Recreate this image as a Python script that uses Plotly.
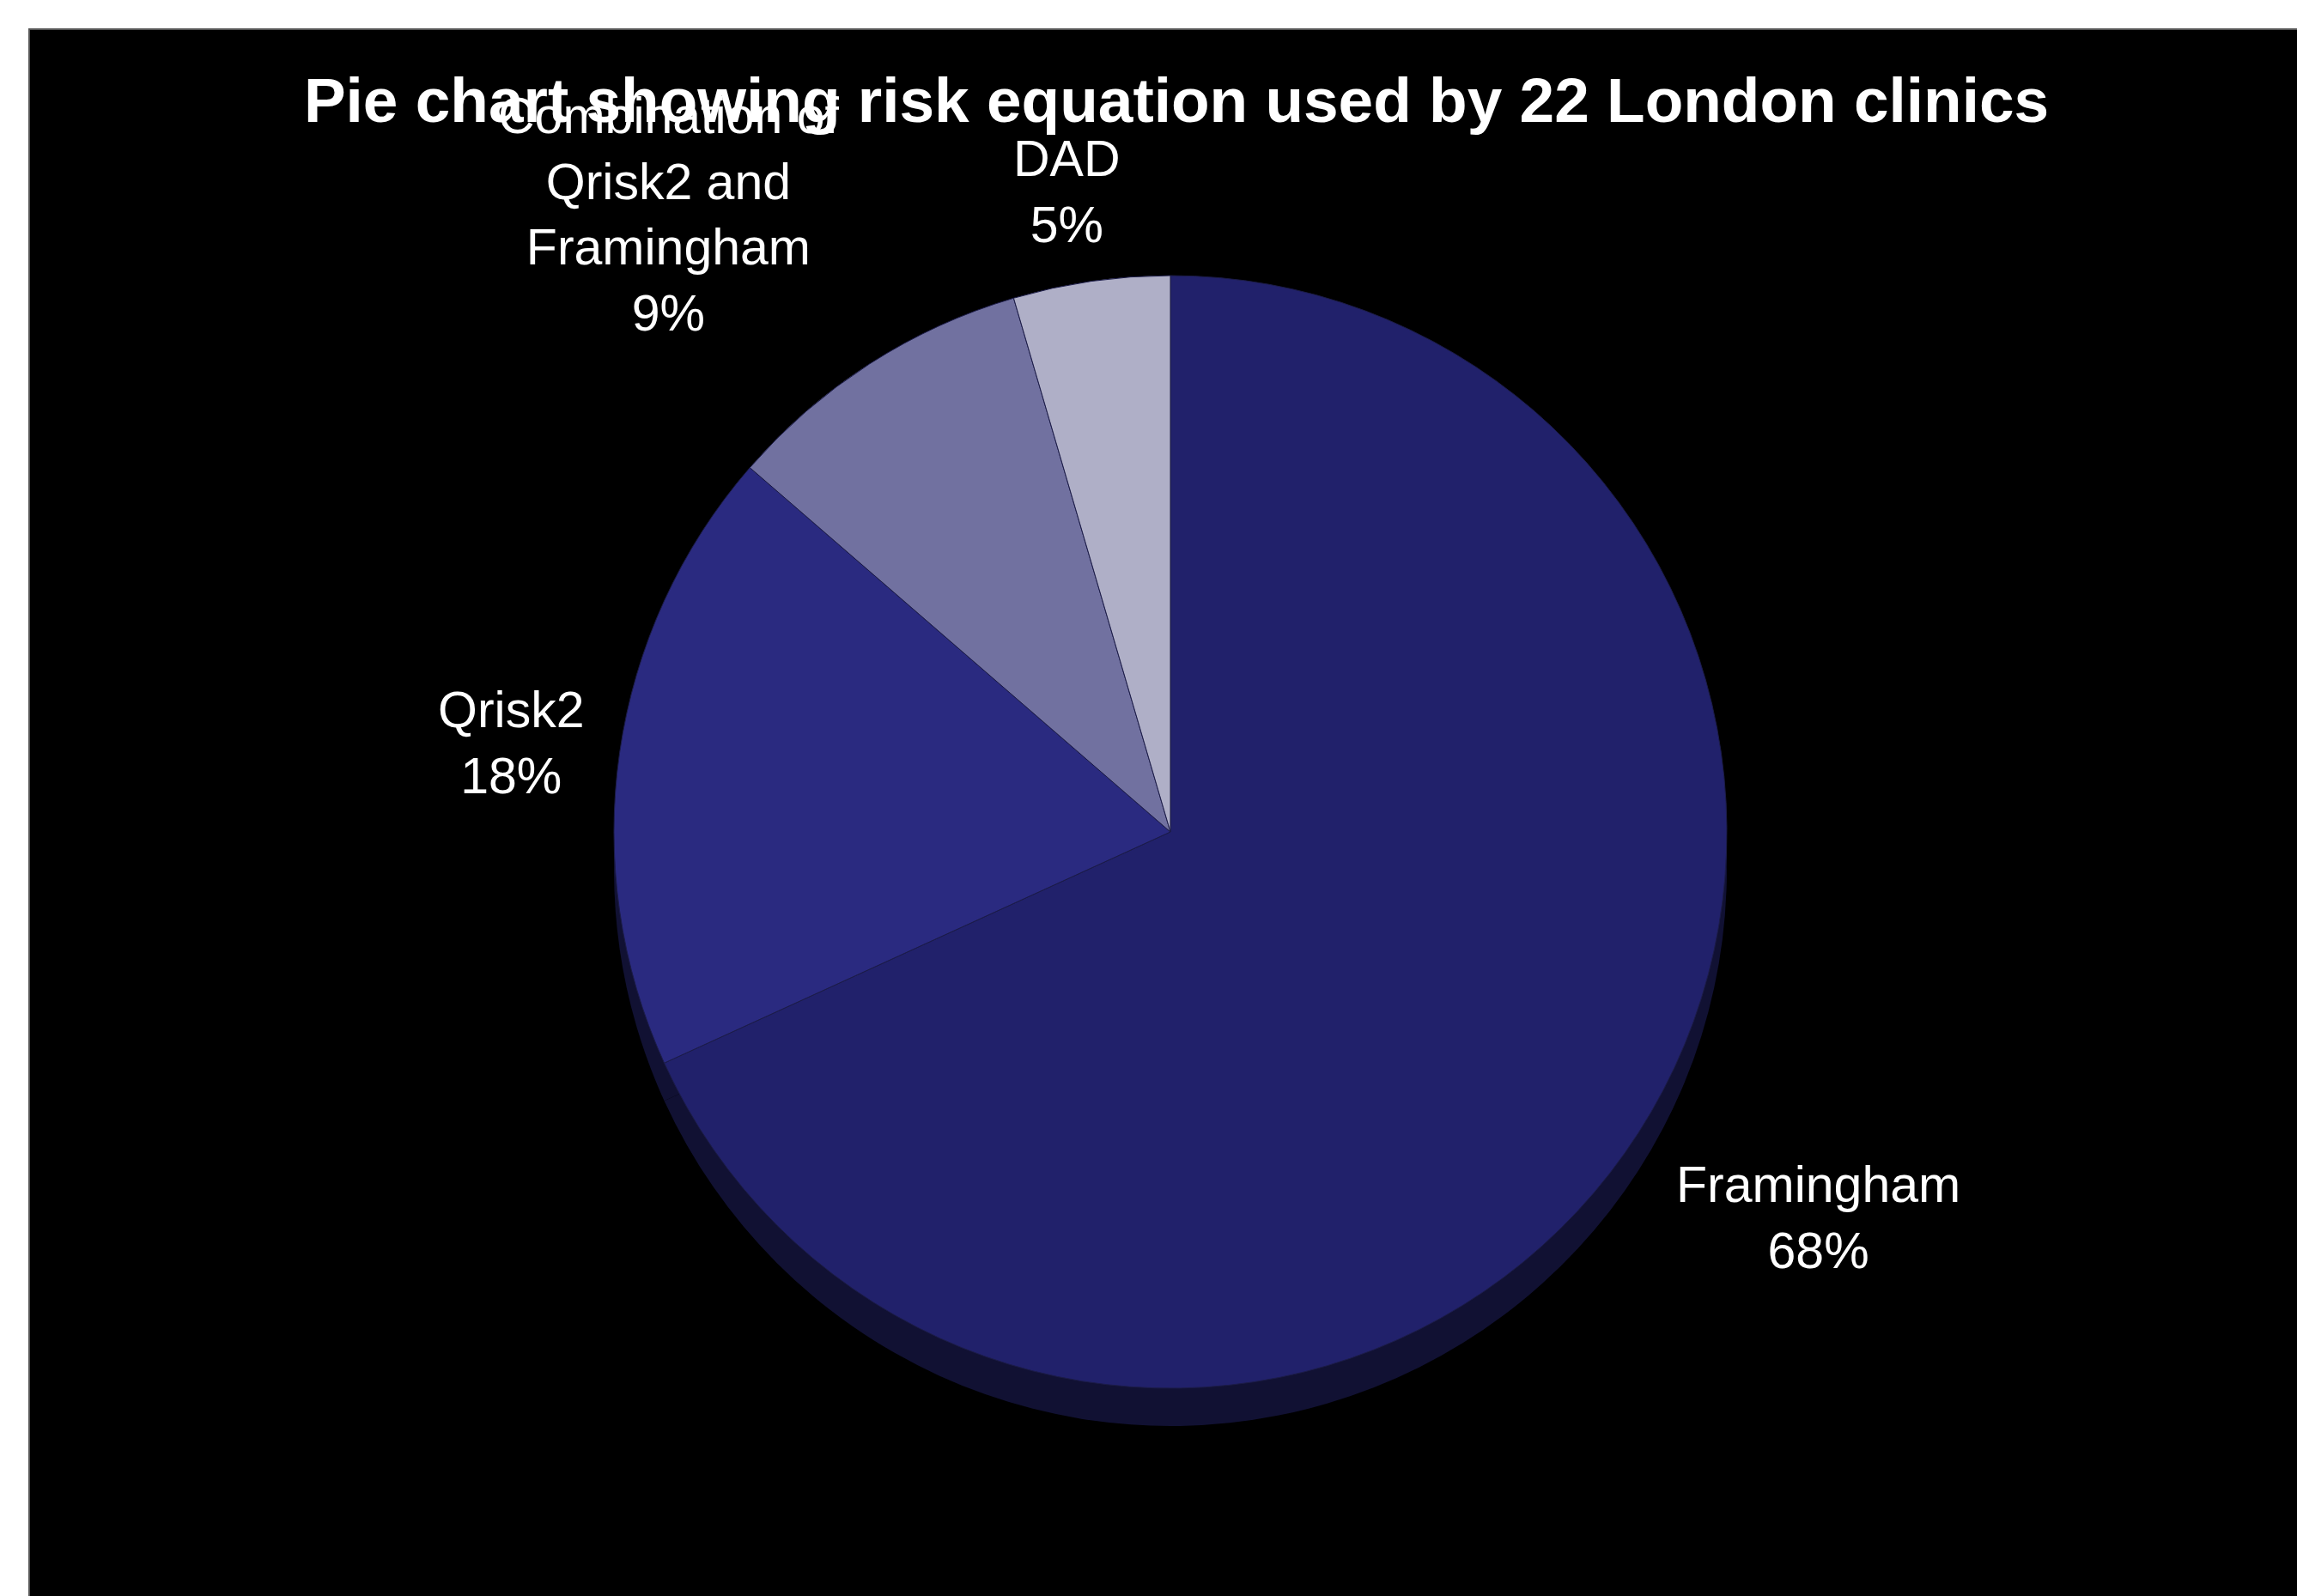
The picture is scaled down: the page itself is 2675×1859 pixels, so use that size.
import plotly.graph_objects as go

# ---- data ----
categories = ["Framingham", "Qrisk2", "Combination of<br>Qrisk2 and<br>Framingham", "DAD"]
clinics = [15, 4, 2, 1]
slice_colors = ["#21216B", "#2A2A80", "#7171A0", "#AFAFC7"]
title_text = "Pie chart showing risk equation used by 22 London clinics"

# ---- layout helpers ----
W, H = 2675, 1859
cx, cy, r = 1363, 969, 648          # pie centre / radius in px
depth = 44                           # 3D depth shadow in px
label_px = [(2117, 1418), (595, 866), (778, 250), (1242, 223)]


def dom(cx_, cy_, r_):
    return dict(x=[(cx_ - r_) / W, (cx_ + r_) / W],
                y=[(H - cy_ - r_) / H, (H - cy_ + r_) / H])


total = sum(clinics)
pct = [f"{round(v / total * 100)}%" for v in clinics]

fig = go.Figure()

# depth / shadow of the 3-D pie
fig.add_trace(go.Pie(
    labels=categories, values=clinics, sort=False, direction="clockwise",
    rotation=0, domain=dom(cx, cy + depth, r),
    marker=dict(colors=["#111133"] * len(clinics), line=dict(width=0)),
    textinfo="none", hoverinfo="skip", showlegend=False,
))

# main pie
fig.add_trace(go.Pie(
    labels=categories, values=clinics, sort=False, direction="clockwise",
    rotation=0, domain=dom(cx, cy, r),
    marker=dict(colors=slice_colors, line=dict(color="#1c1c48", width=1)),
    textinfo="none", showlegend=False,
))

annotations = []
for cat, p, (lx, ly) in zip(categories, pct, label_px):
    annotations.append(dict(
        text=f"{cat}<br>{p}", x=lx / W, y=1 - ly / H, xref="paper", yref="paper",
        xanchor="center", yanchor="middle", showarrow=False, align="center",
        font=dict(family="Liberation Sans, Arial, sans-serif", size=59, color="white"),
    ))

fig.update_layout(
    width=W, height=H,
    margin=dict(l=0, r=0, t=0, b=0),
    paper_bgcolor="white", plot_bgcolor="white",
    title=dict(text=f"<b>{title_text}</b>", x=1370 / W, y=1 - 116 / H,
               xanchor="center", yanchor="middle",
               font=dict(family="Liberation Sans, Arial, sans-serif", size=73, color="white")),
    shapes=[dict(type="rect", xref="paper", yref="paper",
                 x0=34 / W, x1=1.02, y0=-0.02, y1=1 - 34 / H,
                 fillcolor="black", line=dict(color="#555555", width=2), layer="below")],
    annotations=annotations,
)

fig.write_html("out.html")
